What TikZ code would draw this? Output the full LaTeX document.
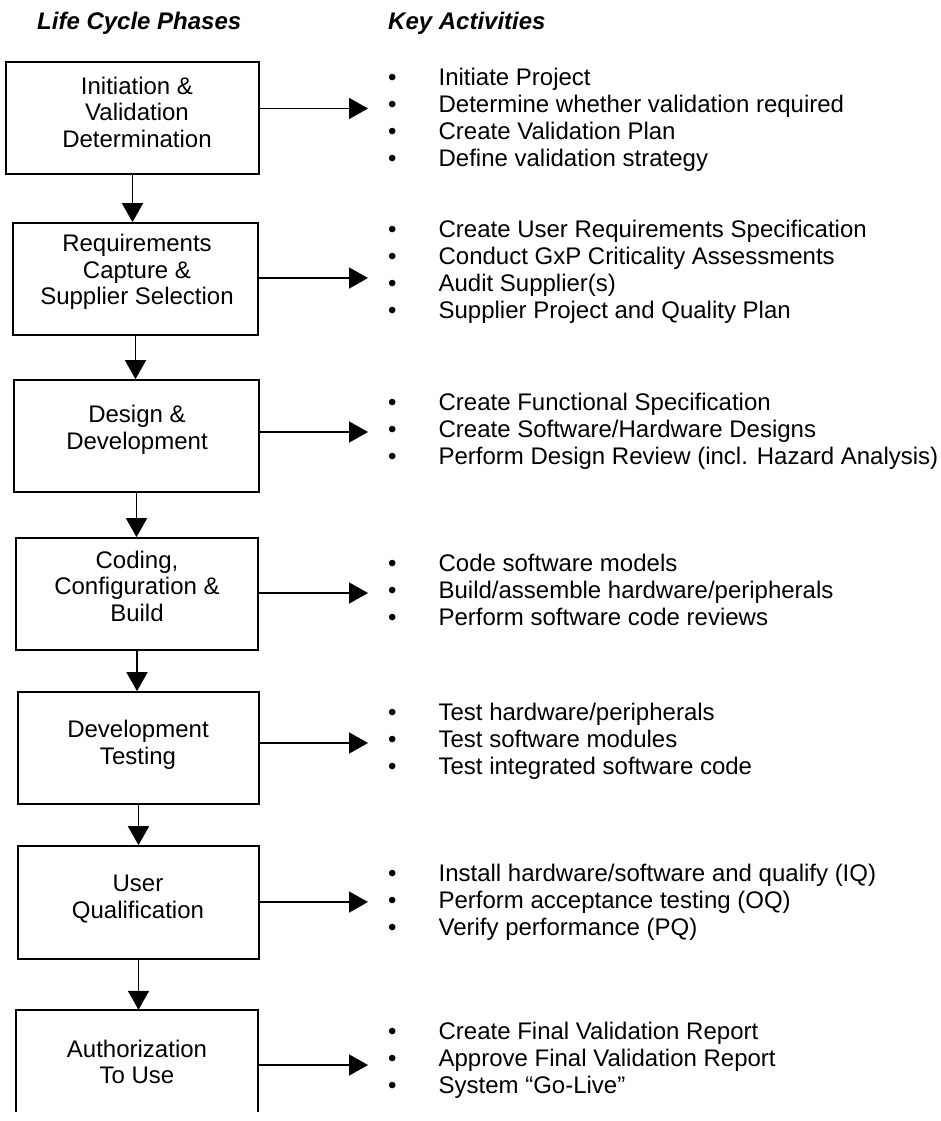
\documentclass[tikz,border=0pt]{standalone}
\usepackage{fontspec}
\setmainfont{Liberation Sans}
\usetikzlibrary{arrows.meta,calc}

% activity list: bullet column and text column
\newcommand{\actlist}[1]{\begin{tabular}[t]{@{}l@{\hspace{42pt}}l@{}}#1\end{tabular}}

\begin{document}
\begin{tikzpicture}[x=1pt,y=-1pt,
  boxline/.style={draw=black, line width=1.7pt},
  phasebox/.style={boxline, inner sep=0pt, minimum height=112pt},
  phasetext/.style={font=\fontsize{24}{26.5}\selectfont, align=center, inner sep=0pt},
  flow/.style={line width=1.7pt, -{Triangle[length=19pt,width=21pt]}},
  acts/.style={font=\fontsize{24}{27}\selectfont, anchor=base west, inner sep=0pt},
  head/.style={font=\fontsize{24}{28}\selectfont\bfseries\itshape, anchor=base west, inner sep=0pt}
]
\useasboundingbox[fill=white] (0,0) rectangle (940,1121);

% column headings
\node[head] (h1) at (37,29.5) {Life Cycle Phases};
\node[head] (h2) at (388,29.5) {Key Activities};

% phase boxes
\node[phasebox, minimum width=253pt] (b1) at (132.5,118) {};
\node[phasebox, minimum width=245pt] (b2) at (135.5,279) {};
\node[phasebox, minimum width=245pt] (b3) at (136.5,436) {};
\node[phasebox, minimum width=242pt] (b4) at (137,594) {};
\node[phasebox, minimum width=241pt] (b5) at (138.5,748) {};
\node[phasebox, minimum width=241pt, minimum height=113pt] (b6) at (138.5,902.5) {};
\node[inner sep=0pt, minimum width=242pt, minimum height=102pt] (b7) at (137,1061) {};
\draw[boxline] (b7.south west) -- (b7.north west) -- (b7.north east) -- (b7.south east);

% phase names
\node[phasetext] (t1) at (137,112) {Initiation \&\\Validation\\Determination};
\node[phasetext] (t2) at (137,272) {Requirements\\Capture \&\\Supplier Selection};
\node[phasetext] (t3) at (137,430) {Design \&\\Development};
\node[phasetext] (t4) at (137,586) {Coding,\\Configuration \&\\Build};
\node[phasetext] (t5) at (138,745) {Development\\Testing};
\node[phasetext] (t6) at (138,899) {User\\Qualification};
\node[phasetext] (t7) at (137,1062) {Authorization\\To Use};

% flow between phases
\draw[flow] (b1.south) -- (b1.south |- b2.north);
\draw[flow] (b2.south) -- (b2.south |- b3.north);
\draw[flow] (b3.south) -- (b3.south |- b4.north);
\draw[flow] (b4.south) -- (b4.south |- b5.north);
\draw[flow] (b5.south) -- (b5.south |- b6.north);
\draw[flow] (b6.south) -- (b6.south |- b7.north);

% arrows to the activity lists
\coordinate (a1) at (368,108.5);
\coordinate (a2) at (368,278);
\coordinate (a3) at (368,432);
\coordinate (a4) at (368,593);
\coordinate (a5) at (368,743);
\coordinate (a6) at (368,902);
\coordinate (a7) at (368,1065);
\foreach \i in {1,...,7} {\draw[flow] (b\i.east |- a\i) -- (a\i);}

% activity lists
\node[acts] (l1) at (388,85.6) {\actlist{%
  • & Initiate Project\\
  • & Determine whether validation required\\
  • & Create Validation Plan\\
  • & Define validation strategy}};
\node[acts] (l2) at (388,237.6) {\actlist{%
  • & Create User Requirements Specification\\
  • & Conduct GxP Criticality Assessments\\
  • & Audit Supplier(s)\\
  • & Supplier Project and Quality Plan}};
\node[acts] (l3) at (388,410.6) {\actlist{%
  • & Create Functional Specification\\
  • & Create Software/Hardware Designs\\
  • & Perform Design Review (incl. Hazard Analysis)}};
\node[acts] (l4) at (388,571.6) {\actlist{%
  • & Code software models\\
  • & Build/assemble hardware/peripherals\\
  • & Perform software code reviews}};
\node[acts] (l5) at (388,720.6) {\actlist{%
  • & Test hardware/peripherals\\
  • & Test software modules\\
  • & Test integrated software code}};
\node[acts] (l6) at (388,881.6) {\actlist{%
  • & Install hardware/software and qualify (IQ)\\
  • & Perform acceptance testing (OQ)\\
  • & Verify performance (PQ)}};
\node[acts] (l7) at (388,1039.6) {\actlist{%
  • & Create Final Validation Report\\
  • & Approve Final Validation Report\\
  • & System “Go-Live”}};
\end{tikzpicture}
\end{document}
